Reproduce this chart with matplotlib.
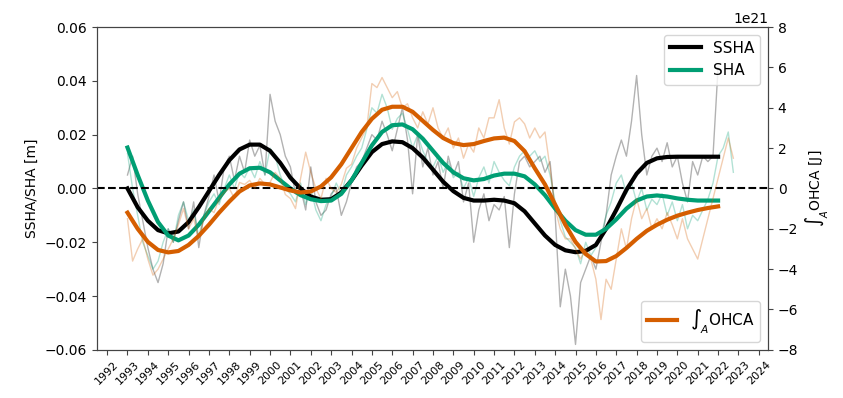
import matplotlib.pyplot as plt
import numpy as np

# quarterly anomalies (raw) and half-yearly low-pass curves
ssha_raw = [
    0.005, 0.012, -0.002, -0.012,     # 1993
    -0.022, -0.030, -0.035, -0.028,   # 1994
    -0.015, -0.020, -0.012, -0.005,   # 1995
    -0.015, -0.005, -0.022, -0.010,   # 1996
    -0.003, 0.005, -0.005, 0.008,     # 1997
    0.012, 0.003, 0.012, 0.006,       # 1998
    0.018, 0.012, 0.016, 0.005,       # 1999
    0.035, 0.025, 0.020, 0.012,       # 2000
    0.008, -0.002, 0.000, -0.008,     # 2001
    0.008, -0.005, -0.010, -0.008,    # 2002
    -0.002, 0.000, -0.010, -0.005,    # 2003
    0.002, 0.008, 0.010, 0.015,       # 2004
    0.020, 0.018, 0.025, 0.020,       # 2005
    0.014, 0.022, 0.030, 0.018,       # 2006
    -0.002, 0.020, 0.008, 0.015,      # 2007
    0.005, 0.010, 0.000, 0.012,       # 2008
    0.005, 0.010, -0.005, 0.002,      # 2009
    -0.020, -0.008, -0.002, -0.012,   # 2010
    -0.006, -0.008, -0.003, -0.022,   # 2011
    -0.002, 0.010, 0.012, 0.008,      # 2012
    0.010, 0.012, 0.006, 0.010,       # 2013
    -0.010, -0.044, -0.030, -0.040,   # 2014
    -0.058, -0.035, -0.030, -0.025,   # 2015
    -0.030, -0.020, -0.010, 0.005,    # 2016
    0.012, 0.018, 0.012, 0.025,       # 2017
    0.042, 0.020, 0.005, 0.012,       # 2018
    0.015, 0.010, 0.017, 0.008,       # 2019
    0.012, 0.002, -0.005, 0.010,      # 2020
    0.005, 0.012, 0.010, 0.012,       # 2021
    0.045,                            # 2022
]

sha_raw = [
    0.013, 0.000, -0.010, -0.020,
    -0.025, -0.030, -0.027, -0.020,
    -0.015, -0.020, -0.010, -0.005,
    -0.012, -0.008, -0.018, -0.010,
    -0.005, -0.002, -0.006, 0.000,
    0.005, 0.000, 0.006, 0.004,
    0.008, 0.004, 0.010, 0.005,
    0.015, 0.012, 0.005, 0.000,
    -0.002, -0.005, 0.002, -0.006,
    0.000, -0.008, -0.012, -0.006,
    -0.003, 0.002, -0.002, 0.005,
    0.008, 0.012, 0.015, 0.022,
    0.030, 0.028, 0.035, 0.030,
    0.022, 0.026, 0.028, 0.022,
    0.015, 0.020, 0.014, 0.010,
    0.008, 0.012, 0.006, 0.010,
    0.004, 0.006, 0.000, 0.004,
    -0.003, 0.004, 0.008, 0.002,
    0.010, 0.006, 0.003, 0.001,
    0.008, 0.012, 0.014, 0.012,
    0.014, 0.010, 0.012, 0.005,
    -0.005, -0.012, -0.018, -0.020,
    -0.022, -0.028, -0.020, -0.025,
    -0.022, -0.018, -0.010, -0.005,
    0.002, 0.005, -0.002, 0.002,
    -0.005, 0.000, -0.008, -0.004,
    -0.006, -0.002, -0.010, -0.005,
    -0.012, -0.006, -0.015, -0.010,
    -0.012, -0.008, -0.004, 0.002,
    0.012, 0.015, 0.021, 0.006,
]

ohca_raw = [  # 1e21 J
    -1.5, -3.6, -3.0, -2.5,
    -3.5, -4.3, -4.0, -3.5,
    -3.0, -2.5, -1.8, -1.0,
    -2.0, -1.5, -2.5, -1.5,
    -1.0, -1.2, -0.5, -0.2,
    0.0, -0.5, 0.3, 0.2,
    0.4, 0.0, 0.5, 0.2,
    0.3, 0.8, 0.5, -0.3,
    -0.5, -1.0, 0.5, 1.8,
    0.8, 0.0, -0.5, 0.5,
    0.0, -0.2, 0.2, 1.0,
    1.2, 2.0, 2.5, 3.0,
    5.2, 5.0, 5.5, 5.0,
    4.5, 4.8, 4.0, 4.2,
    3.5, 3.0, 3.8, 3.2,
    4.0, 3.0, 2.5, 3.0,
    2.0, 2.5, 1.5, 2.2,
    1.8, 3.0, 2.5, 3.5,
    3.5, 4.4, 3.0, 2.2,
    3.3, 3.5, 3.2, 2.5,
    3.0, 2.5, 2.8, 1.0,
    -1.0, -2.0, -2.5, -2.5,
    -3.0, -3.5, -3.0, -3.5,
    -4.5, -6.5, -4.5, -5.0,
    -3.5, -2.0, -3.0, -1.5,
    -0.5, -1.5, -1.0, -2.0,
    -1.5, -2.0, -1.2, -1.8,
    -2.5, -1.5, -2.5, -3.0,
    -3.5, -2.5, -1.5, -0.5,
    0.5, 1.5, 2.5, 1.5,
]

ssha_smooth = [
    0.0000, -0.0070, -0.0120, -0.0155, -0.0167, -0.0160, -0.0125, -0.0070,
    -0.0010, 0.0050, 0.0105, 0.0145, 0.0163, 0.0163, 0.0140, 0.0095,
    0.0040, 0.0000, -0.0030, -0.0042, -0.0040, -0.0015, 0.0030, 0.0085,
    0.0135, 0.0165, 0.0175, 0.0172, 0.0150, 0.0115, 0.0070, 0.0025,
    -0.0010, -0.0035, -0.0045, -0.0045, -0.0042, -0.0045, -0.0055, -0.0085,
    -0.0130, -0.0175, -0.0210, -0.0230, -0.0237, -0.0232, -0.0210, -0.0150,
    -0.0080, -0.0005, 0.0055, 0.0095, 0.0112, 0.0117, 0.0118, 0.0118,
    0.0118, 0.0118, 0.0118,
]

sha_smooth = [
    0.0152, 0.0050, -0.0045, -0.0125, -0.0175, -0.0193, -0.0175, -0.0135,
    -0.0085, -0.0035, 0.0015, 0.0055, 0.0075, 0.0077, 0.0060, 0.0030,
    0.0000, -0.0025, -0.0040, -0.0047, -0.0045, -0.0020, 0.0030, 0.0095,
    0.0160, 0.0210, 0.0235, 0.0238, 0.0220, 0.0185, 0.0140, 0.0095,
    0.0060, 0.0038, 0.0030, 0.0035, 0.0048, 0.0055, 0.0055, 0.0045,
    0.0015, -0.0025, -0.0075, -0.0120, -0.0155, -0.0172, -0.0172, -0.0150,
    -0.0115, -0.0075, -0.0045, -0.0030, -0.0026, -0.0030, -0.0037, -0.0042,
    -0.0045, -0.0045, -0.0045,
]

ohca_smooth = [  # 1e21 J
    -1.20, -2.00, -2.65, -3.05, -3.17, -3.10, -2.80, -2.35,
    -1.80, -1.20, -0.65, -0.15, 0.15, 0.25, 0.20, 0.05,
    -0.10, -0.20, -0.15, 0.10, 0.55, 1.20, 2.00, 2.80,
    3.45, 3.90, 4.05, 4.05, 3.80, 3.35, 2.90, 2.50,
    2.25, 2.15, 2.20, 2.35, 2.48, 2.52, 2.35, 1.85,
    1.00, 0.20, -0.80, -1.80, -2.65, -3.25, -3.62, -3.60,
    -3.35, -2.95, -2.50, -2.10, -1.80, -1.55, -1.35, -1.20,
    -1.07, -0.97, -0.89,
]

years = list(range(1992, 2025))

t_ssha = 1993 + 0.25 * np.arange(len(ssha_raw))
t_raw = 1993 + 0.25 * np.arange(len(sha_raw))
t_smooth = 1993 + 0.5 * np.arange(len(ssha_smooth))

c_sha = '#009E73'
c_ohca = '#D55E00'
c_frame = '#444444'

fig, ax = plt.subplots(figsize=(8.43, 3.98), dpi=100)
fig.subplots_adjust(left=0.115, right=0.911, top=0.932, bottom=0.121)
ax2 = ax.twinx()

ax.plot(t_ssha, ssha_raw, color='k', alpha=0.3, lw=1)
ax.plot(t_raw, sha_raw, color=c_sha, alpha=0.3, lw=1)
ax.plot(t_smooth, ssha_smooth, color='k', lw=3, label='SSHA')
ax.plot(t_smooth, sha_smooth, color=c_sha, lw=3, label='SHA')
ax.axhline(0, color='k', ls='--', lw=1.5)

ohca_scale = 1e21
ax2.plot(t_raw, np.array(ohca_raw) * ohca_scale, color=c_ohca, alpha=0.3, lw=1)
ax2.plot(t_smooth, np.array(ohca_smooth) * ohca_scale, color=c_ohca, lw=3,
         label=r'$\int_A$OHCA')

ax.set_ylim(-0.06, 0.06)
ax2.set_ylim(-8e21, 8e21)
ax.set_xlim(1991.5, 2024.45)
ax.set_xticks(years)
ax.set_xticklabels([str(y) for y in years], rotation=45, fontsize=8)
ax.set_ylabel('SSHA/SHA [m]')
ax2.set_ylabel(r'$\int_A$OHCA [J]')

# softer frame
for a in (ax, ax2):
    for sp in a.spines.values():
        sp.set_color(c_frame)
    a.tick_params(color=c_frame)

ax.legend(loc='upper right', fontsize=11)
ax2.legend(loc='lower right', fontsize=11)

fig.savefig('out.png', dpi=100)
